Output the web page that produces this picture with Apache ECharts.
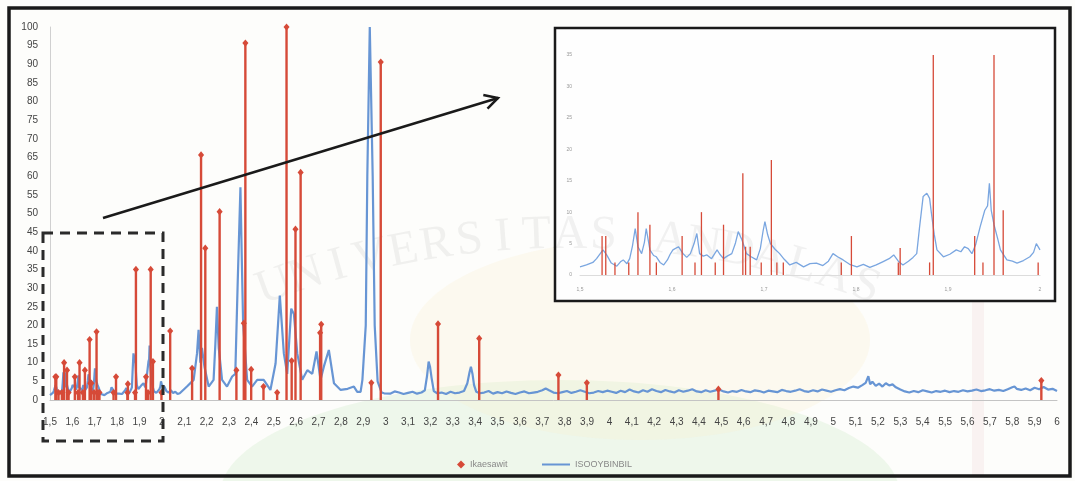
<!DOCTYPE html>
<html>
<head>
<meta charset="utf-8">
<script src="https://cdn.jsdelivr.net/npm/echarts@6/dist/echarts.min.js"></script>
<style>
  html, body { margin: 0; padding: 0; background: #fdfdfb; }
  #chart { width: 1075px; height: 481px; }
</style>
</head>
<body>
<div id="chart"></div>
<script>
// Series names shown in the legend
const stickName = 'Ikaesawit';
const traceName = 'ISOOYBINBIL';

// Reference stick pattern: [position, relative intensity]
const stickPeaks = [
  [1.524, 6.2], [1.528, 6.2], [1.538, 2], [1.553, 2], [1.563, 10], [1.576, 8], [1.583, 2],
  [1.611, 6.2], [1.625, 2], [1.632, 10], [1.647, 2], [1.656, 8], [1.677, 16.2], [1.680, 4.5],
  [1.685, 4.5], [1.697, 2], [1.708, 18.3], [1.714, 2], [1.721, 2], [1.784, 2], [1.795, 6.2],
  [1.846, 2], [1.848, 4.3], [1.880, 2], [1.884, 35], [1.929, 6.2], [1.938, 2], [1.950, 35],
  [1.960, 10.3], [1.998, 2],
  [2.037, 18.5], [2.135, 8.5], [2.175, 65.7], [2.194, 40.7], [2.258, 50.5], [2.333, 8],
  [2.366, 20.6], [2.373, 95.7], [2.399, 8.2], [2.454, 3.6], [2.515, 2], [2.557, 100],
  [2.580, 10.5], [2.597, 45.8], [2.620, 61], [2.707, 18], [2.712, 20.3], [2.936, 4.6],
  [2.978, 90.6], [3.234, 20.4], [3.418, 16.5], [3.772, 6.7], [3.899, 4.6], [4.487, 2.9],
  [5.930, 5.2]
];

// Measured trace 1.5 - 2.0
const traceLow = [
  [1.500,1.3],[1.507,1.6],[1.514,2.0],[1.518,2.6],[1.522,3.4],[1.525,4.0],[1.529,3.2],[1.534,1.9],
  [1.540,1.4],[1.544,2.1],[1.547,2.4],[1.551,1.8],[1.554,2.6],[1.557,4.6],[1.560,7.4],[1.563,4.5],
  [1.567,3.4],[1.570,5.2],[1.572,7.4],[1.576,4.0],[1.580,3.1],[1.583,2.9],[1.587,2.0],[1.591,1.6],
  [1.595,2.4],[1.598,3.3],[1.601,4.0],[1.607,4.5],[1.612,3.4],[1.616,2.8],[1.620,3.4],[1.624,5.0],
  [1.627,6.6],[1.630,3.4],[1.634,3.0],[1.638,3.2],[1.643,2.6],[1.649,4.0],[1.652,3.3],[1.656,2.6],
  [1.660,3.0],[1.665,3.4],[1.669,5.1],[1.672,6.9],[1.676,5.6],[1.681,3.4],[1.686,2.9],[1.692,2.4],
  [1.696,4.2],[1.699,7.0],[1.701,8.5],[1.704,6.4],[1.707,5.0],[1.712,4.1],[1.717,3.4],[1.722,2.5],
  [1.728,1.6],[1.735,2.0],[1.743,1.3],[1.750,1.8],[1.757,1.9],[1.764,1.5],[1.770,2.2],[1.775,3.4],
  [1.780,2.9],[1.786,2.4],[1.793,1.7],[1.801,1.3],[1.808,1.7],[1.815,1.2],[1.822,1.6],[1.829,2.1],
  [1.836,2.6],[1.841,3.2],[1.846,2.2],[1.851,1.6],[1.857,2.2],[1.862,2.8],[1.866,3.4],[1.869,7.5],
  [1.873,12.5],[1.877,13.0],[1.880,12.2],[1.882,9.8],[1.885,6.5],[1.888,4.0],[1.895,2.9],[1.902,3.3],
  [1.909,4.0],[1.914,3.7],[1.918,4.5],[1.922,4.2],[1.926,3.4],[1.930,4.8],[1.935,7.7],[1.940,10.3],
  [1.943,11.0],[1.945,14.6],[1.947,10.3],[1.950,8.0],[1.954,5.8],[1.957,4.0],[1.964,2.4],[1.970,2.2],
  [1.975,1.9],[1.982,2.3],[1.989,2.9],[1.993,3.6],[1.996,5.0],[2.000,4.0]
];

// Measured trace 2.0 - 4.0
const traceMid = [
  [2.005,4.5],[2.012,3.5],[2.020,2.4],[2.030,2.0],[2.040,2.6],[2.050,1.9],[2.060,2.2],[2.070,1.6],
  [2.080,1.8],[2.112,3.6],[2.142,5.4],[2.157,12.5],[2.164,18.8],[2.172,10],[2.179,14],[2.190,9],
  [2.209,3.6],[2.231,5.4],[2.239,15],[2.246,25],[2.254,14],[2.269,5.4],[2.291,3.6],[2.314,6.3],
  [2.328,7],[2.339,32],[2.351,57],[2.357,38],[2.363,20.5],[2.381,5.4],[2.403,3.6],[2.426,5.4],
  [2.455,5.4],[2.485,2.7],[2.508,9.8],[2.527,28],[2.545,12.5],[2.560,7],[2.578,24.5],[2.590,23],
  [2.605,12.5],[2.627,5.4],[2.650,8],[2.672,7],[2.691,13],[2.709,5.4],[2.724,9],[2.746,13.4],
  [2.769,4.5],[2.799,2.7],[2.830,3.0],[2.858,3.6],[2.873,2.2],[2.888,2.2],[2.896,5.4],[2.911,20],
  [2.918,60],[2.929,100],[2.942,60],[2.951,20],[2.964,5],[2.982,2],[2.993,1.8],
  [3.00,2.1],[3.02,1.7],[3.04,2.3],[3.06,2.0],[3.08,1.6],[3.10,1.9],[3.12,2.2],[3.14,1.7],
  [3.16,2.0],[3.175,2.6],[3.185,6.5],[3.192,10.3],[3.198,9.0],[3.205,6],[3.215,2.4],[3.23,1.8],
  [3.25,2.0],[3.27,1.6],[3.29,2.2],[3.31,1.8],[3.33,2.0],[3.35,2.4],[3.365,4.5],[3.375,7.5],
  [3.381,8.9],[3.388,7],[3.395,4],[3.405,2.2],[3.42,1.8],[3.44,2.0],[3.46,2.4],[3.48,1.7],
  [3.50,2.1],[3.52,1.8],[3.54,2.3],[3.56,1.9],[3.58,1.6],[3.60,2.0],[3.62,2.3],[3.64,1.8],
  [3.66,2.0],[3.68,2.2],[3.70,2.6],[3.715,3.1],[3.73,2.6],[3.75,2.0],[3.77,1.8],[3.79,2.1],
  [3.81,2.4],[3.83,1.9],[3.85,2.2],[3.87,2.6],[3.89,2.2],[3.91,1.8],[3.93,2.0],[3.95,2.4],
  [3.97,2.1],[3.99,2.5]
];

// Measured trace 4.0 - 6.0
const traceHigh = [
  [4.01,2.2],[4.03,1.9],[4.05,2.5],[4.07,2.1],[4.09,2.8],[4.11,2.3],[4.13,2.0],[4.15,2.6],
  [4.17,2.2],[4.19,2.9],[4.21,2.4],[4.23,2.1],[4.25,2.7],[4.27,2.3],[4.29,2.0],[4.31,2.6],
  [4.33,2.2],[4.35,2.5],[4.37,2.9],[4.39,2.3],[4.41,2.1],[4.43,2.6],[4.45,2.2],[4.47,2.5],
  [4.49,2.8],[4.51,2.3],[4.53,2.0],[4.55,2.4],[4.57,2.2],[4.59,2.7],[4.61,2.3],[4.63,2.1],
  [4.65,2.6],[4.67,2.4],[4.69,2.0],[4.71,2.5],[4.73,2.3],[4.75,2.1],[4.77,2.7],[4.79,2.4],
  [4.81,2.2],[4.83,2.5],[4.85,2.9],[4.87,2.4],[4.89,2.2],[4.91,2.6],[4.93,2.3],[4.95,2.8],
  [4.97,2.5],[4.99,2.2],[5.01,2.6],[5.03,2.9],[5.05,2.6],[5.07,3.2],[5.09,3.6],[5.11,3.3],
  [5.13,4.0],[5.145,4.6],[5.157,6.4],[5.165,4.2],[5.175,4.9],[5.19,3.8],[5.205,4.4],[5.22,3.6],
  [5.235,4.5],[5.25,3.9],[5.265,4.2],[5.28,3.4],[5.30,2.8],[5.32,2.3],[5.34,2.0],[5.36,2.4],
  [5.38,2.1],[5.40,2.6],[5.42,2.3],[5.44,2.0],[5.46,2.4],[5.48,2.2],[5.50,2.5],[5.52,2.1],
  [5.54,2.4],[5.56,2.2],[5.58,2.6],[5.60,2.3],[5.62,2.5],[5.64,2.8],[5.66,2.4],[5.68,2.6],
  [5.70,2.9],[5.72,2.5],[5.74,2.7],[5.76,2.4],[5.78,2.9],[5.80,3.4],[5.81,3.6],[5.82,3.0],
  [5.84,2.7],[5.86,3.1],[5.88,2.6],[5.90,3.3],[5.92,2.9],[5.94,3.5],[5.96,2.8],[5.98,3.0],
  [6.00,2.4]
];

// Axis ranges and ticks
const mainRange = { min: 1.5, max: 6, step: 0.1, yMax: 100, yStep: 5 };
const zoomRange = { min: 1.5, max: 2, step: 0.1, yMax: 35, yStep: 5 };

const RED = '#d64a38';
const BLUE = '#6795d4';

const trace = traceLow.concat(traceMid, traceHigh);
const zoomTrace = trace.filter(p => p[0] <= zoomRange.max);
const zoomPeaks = stickPeaks.filter(p => p[0] <= zoomRange.max);

const commaLabel = v => {
  const r = Math.round(v * 10) / 10;
  return Number.isInteger(r) ? String(r) : r.toFixed(1).replace('.', ',');
};

// vertical stick from the baseline to the intensity, optional diamond cap
function stickRenderer(lineWidth, capSize) {
  return function (params, api) {
    const x = api.value(0), y = api.value(1);
    const top = api.coord([x, y]);
    const base = api.coord([x, 0]);
    const children = [{
      type: 'line',
      shape: { x1: top[0], y1: top[1], x2: base[0], y2: base[1] },
      style: { stroke: RED, lineWidth: lineWidth }
    }];
    if (capSize) {
      children.push({
        type: 'polygon',
        shape: { points: [[top[0], top[1] - capSize], [top[0] + capSize * 0.85, top[1]],
                          [top[0], top[1] + capSize], [top[0] - capSize * 0.85, top[1]]] },
        style: { fill: RED }
      });
    }
    return { type: 'group', children: children };
  };
}

// faint arc lettering in the page background
const arcText = 'UNIVERSITAS ANDALAS';
const arcCx = 570, arcCy = 1108, arcR = 873, arcStep = 2.2 * Math.PI / 180;
const arcLetters = arcText.split('').map((ch, i) => {
  const a = (i - (arcText.length - 1) / 2) * arcStep;
  return {
    type: 'text', z: -10, silent: true,
    x: arcCx + arcR * Math.sin(a), y: arcCy - arcR * Math.cos(a),
    rotation: -a,
    style: { text: ch, font: '48px "Liberation Serif"', fill: 'rgba(110,110,110,0.09)',
             align: 'center', verticalAlign: 'middle' }
  };
});

// pointer from the dashed region towards the zoomed panel
const arrowFrom = [103, 218], arrowTo = [498, 98];
const ang = Math.atan2(arrowTo[1] - arrowFrom[1], arrowTo[0] - arrowFrom[0]);
const headLen = 15, headSpread = 0.5;
const headPts = [
  [arrowTo[0] - headLen * Math.cos(ang - headSpread), arrowTo[1] - headLen * Math.sin(ang - headSpread)],
  arrowTo,
  [arrowTo[0] - headLen * Math.cos(ang + headSpread), arrowTo[1] - headLen * Math.sin(ang + headSpread)]
];

const chart = echarts.init(document.getElementById('chart'), null, { renderer: 'canvas' });

chart.setOption({
  animation: false,
  backgroundColor: '#fdfdfb',
  textStyle: { fontFamily: '"Liberation Sans", Arial, sans-serif' },
  legend: [
    {
      data: [{ name: stickName, icon: 'diamond' }],
      left: 452, top: 455, itemWidth: 8, itemHeight: 8,
      textStyle: { fontSize: 9, color: '#888' }
    },
    {
      data: [{ name: traceName, icon: 'rect' }],
      left: 537, top: 455, itemWidth: 28, itemHeight: 2,
      textStyle: { fontSize: 9, color: '#888' }
    }
  ],
  grid: [
    { left: 50, right: 18, top: 27, bottom: 81 },
    { left: 580, right: 35, top: 55, bottom: 206 }
  ],
  xAxis: [
    {
      gridIndex: 0, type: 'value', min: mainRange.min, max: mainRange.max, interval: mainRange.step,
      axisLine: { lineStyle: { color: '#c4c4c4', width: 1 } },
      axisTick: { show: false }, splitLine: { show: false },
      axisLabel: { formatter: commaLabel, fontSize: 10, color: '#444', margin: 17, showMinLabel: true, showMaxLabel: true }
    },
    {
      gridIndex: 1, type: 'value', min: zoomRange.min, max: zoomRange.max, interval: zoomRange.step,
      axisLine: { lineStyle: { color: '#dcdcdc', width: 1 } },
      axisTick: { show: false }, splitLine: { show: false },
      axisLabel: { formatter: commaLabel, fontSize: 5, color: '#999', margin: 12 }
    }
  ],
  yAxis: [
    {
      gridIndex: 0, type: 'value', min: 0, max: mainRange.yMax, interval: mainRange.yStep,
      axisLine: { show: true, lineStyle: { color: '#d0d0d0', width: 1 } },
      axisTick: { show: false }, splitLine: { show: false },
      axisLabel: { fontSize: 10, color: '#444', margin: 12 }
    },
    {
      gridIndex: 1, type: 'value', min: 0, max: zoomRange.yMax, interval: zoomRange.yStep,
      axisLine: { show: false }, axisTick: { show: false }, splitLine: { show: false },
      axisLabel: { fontSize: 5, color: '#999', margin: 8 }
    }
  ],
  series: [
    {
      name: traceName, type: 'line', xAxisIndex: 0, yAxisIndex: 0, data: trace,
      showSymbol: false, symbol: 'none', z: 2,
      lineStyle: { color: BLUE, width: 2.2 }, itemStyle: { color: BLUE }
    },
    {
      name: stickName, type: 'custom', xAxisIndex: 0, yAxisIndex: 0, data: stickPeaks,
      encode: { x: 0, y: 1 }, renderItem: stickRenderer(2.4, 3.6), z: 3,
      itemStyle: { color: RED }
    },
    {
      name: traceName, type: 'line', xAxisIndex: 1, yAxisIndex: 1, data: zoomTrace,
      showSymbol: false, symbol: 'none', z: 2,
      lineStyle: { color: '#7aa6e0', width: 1.3 }, itemStyle: { color: BLUE }
    },
    {
      name: stickName, type: 'custom', xAxisIndex: 1, yAxisIndex: 1, data: zoomPeaks,
      encode: { x: 0, y: 1 }, renderItem: stickRenderer(1.3, 0), z: 3,
      itemStyle: { color: RED }
    }
  ],
  graphic: [
    // soft background tints
    { type: 'ellipse', z: -20, silent: true, shape: { cx: 560, cy: 495, rx: 340, ry: 115 },
      style: { fill: 'rgba(205,234,200,0.30)' } },
    { type: 'ellipse', z: -20, silent: true, shape: { cx: 640, cy: 340, rx: 230, ry: 100 },
      style: { fill: 'rgba(250,238,205,0.25)' } },
    { type: 'rect', z: -20, silent: true, shape: { x: 972, y: 302, width: 12, height: 174 },
      style: { fill: 'rgba(235,205,205,0.22)' } },
    // zoom panel background
    { type: 'rect', z: -15, silent: true, shape: { x: 555, y: 28, width: 500, height: 273 },
      style: { fill: '#fefefe' } },
    ...arcLetters,
    // outer frame
    { type: 'rect', z: 50, silent: true, shape: { x: 9, y: 8, width: 1061, height: 468 },
      style: { fill: 'none', stroke: '#1a1a1a', lineWidth: 3.5 } },
    // zoom panel frame
    { type: 'rect', z: 50, silent: true, shape: { x: 555, y: 28, width: 500, height: 273 },
      style: { fill: 'none', stroke: '#1a1a1a', lineWidth: 2.5 } },
    // dashed selection box
    { type: 'rect', z: 50, silent: true, shape: { x: 43, y: 233, width: 120, height: 208 },
      style: { fill: 'none', stroke: '#2a2a2a', lineWidth: 3, lineDash: [10, 7] } },
    // pointer
    { type: 'line', z: 50, silent: true,
      shape: { x1: arrowFrom[0], y1: arrowFrom[1], x2: arrowTo[0], y2: arrowTo[1] },
      style: { stroke: '#1a1a1a', lineWidth: 2.5 } },
    { type: 'polyline', z: 50, silent: true, shape: { points: headPts },
      style: { stroke: '#1a1a1a', lineWidth: 2.5, fill: 'none' } }
  ]
});
</script>
</body>
</html>
